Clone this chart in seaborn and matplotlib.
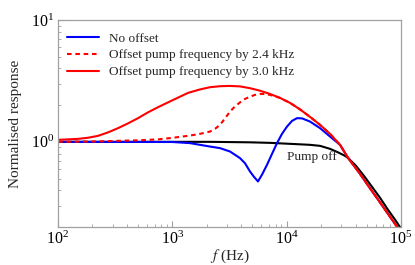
import numpy as np
import pandas as pd
import matplotlib
matplotlib.use("Agg")
import matplotlib.pyplot as plt
import seaborn as sns
from matplotlib.ticker import LogLocator, LogFormatterMathtext, NullFormatter

# ---- data (frequency in Hz, normalised response) ----
f_pump_off = [100, 1000, 2134, 4778, 7145, 10690, 13090, 16000, 19590, 23940, 28120, 31760,
              34380, 40370, 47420, 55730, 65480, 76950, 88650, 100000]
r_pump_off = [1.0, 1.0, 1.0, 0.991, 0.981, 0.963, 0.954, 0.945, 0.927, 0.876, 0.820, 0.775,
              0.739, 0.636, 0.526, 0.428, 0.348, 0.277, 0.230, 0.194]

f_no_offset = [100, 1000, 1428, 1746, 2134, 2612, 3194, 3908, 4323, 4778, 5179, 5610, 6081,
               6730, 7447, 8230, 9103, 10070, 11140, 12310, 13620, 16000, 19590, 23940, 29300,
               34380, 43750, 53550, 65480, 80130, 92300]
r_no_offset = [1.0, 0.997, 0.976, 0.945, 0.915, 0.888, 0.833, 0.735, 0.667, 0.571, 0.516, 0.473,
               0.537, 0.648, 0.797, 0.976, 1.163, 1.335, 1.486, 1.564, 1.558, 1.467, 1.295,
               1.105, 0.945, 0.739, 0.547, 0.416, 0.319, 0.243, 0.201]

f_off24 = [100, 224, 501, 750, 1000, 1428, 1746, 2134, 2361, 2612, 2890, 3194, 3532, 3908,
           4323, 4778, 5284, 5843, 6465, 7145, 7907, 8750, 10690, 13090, 16000, 19590, 23940,
           29300, 34380, 43750, 53550, 65480, 80130, 92300]
r_off24 = [1.0, 1.009, 1.029, 1.048, 1.078, 1.126, 1.163, 1.214, 1.278, 1.378, 1.558, 1.771,
           1.954, 2.107, 2.250, 2.351, 2.428, 2.473, 2.473, 2.428, 2.360, 2.294, 2.088, 1.846,
           1.603, 1.378, 1.163, 0.945, 0.739, 0.547, 0.416, 0.319, 0.243, 0.201]

f_off30 = [100, 122, 150, 183, 224, 274, 335, 410, 501, 612, 750, 916, 1122, 1371, 1746, 2134,
           2612, 3194, 3908, 4778, 5843, 7145, 8750, 10690, 13090, 16000, 19590, 23940, 29300,
           34380, 43750, 53550, 65480, 80130, 92300]
r_off30 = [1.038, 1.048, 1.058, 1.08, 1.120, 1.196, 1.295, 1.418, 1.564, 1.745, 1.925, 2.107,
           2.307, 2.521, 2.693, 2.807, 2.862, 2.877, 2.851, 2.756, 2.629, 2.473, 2.294, 2.088,
           1.846, 1.603, 1.378, 1.163, 0.945, 0.739, 0.547, 0.416, 0.319, 0.243, 0.201]

labels = ["No offset", "Offset pump frequency by 2.4 kHz", "Offset pump frequency by 3.0 kHz"]
annotation = "Pump off"

sns.set_style("ticks")
plt.rcParams["font.family"] = ["Liberation Serif", "DejaVu Serif"]
plt.rcParams["mathtext.fontset"] = "stix"

fig = plt.figure(figsize=(4.15, 2.65), dpi=100)
ax = fig.add_axes([58 / 415, 1 - 227 / 265, (401 - 58) / 415, (227 - 20) / 265])

lw = 1.5
sns.lineplot(x=f_pump_off, y=r_pump_off, ax=ax, color="black", lw=lw, sort=False)
sns.lineplot(x=f_no_offset, y=r_no_offset, ax=ax, color="#0000ff", lw=lw, sort=False, label=labels[0])
sns.lineplot(x=f_off24, y=r_off24, ax=ax, color="#ff0000", lw=lw, sort=False, label=labels[1],
             linestyle=(0, (2.2, 1.8)))
sns.lineplot(x=f_off30, y=r_off30, ax=ax, color="#ff0000", lw=lw, sort=False, label=labels[2])

ax.set_xscale("log")
ax.set_yscale("log")
ax.set_xlim(100, 100000)
ax.set_ylim(0.2, 10)

for axis in (ax.xaxis, ax.yaxis):
    axis.set_major_locator(LogLocator(base=10))
    axis.set_major_formatter(LogFormatterMathtext())
    axis.set_minor_locator(LogLocator(base=10, subs=np.arange(2, 10)))
    axis.set_minor_formatter(NullFormatter())

frame_c = "#a0a0a0"
for s in ax.spines.values():
    s.set_color(frame_c)
    s.set_linewidth(0.9)
ax.tick_params(which="both", direction="in", colors=frame_c, labelcolor="black",
               top=False, right=False)
ax.tick_params(which="major", length=4.5, width=0.8, labelsize=11.5, pad=3)
ax.tick_params(which="minor", length=2.5, width=0.6)

ax.set_xlabel("$f$ (Hz)", fontsize=11)
ax.xaxis.set_label_coords(0.5, -0.098)
ax.set_ylabel("Normalised response", fontsize=11, labelpad=6)

ax.text(10070, 0.753, annotation, fontsize=9.5, ha="left", va="center")

leg = ax.legend(loc="upper left", frameon=False, fontsize=9.5, handlelength=2.4,
                handletextpad=0.75, labelspacing=0.35, borderaxespad=0.3,
                bbox_to_anchor=(0.0, 0.985))

fig.savefig("out.png", dpi=100)
